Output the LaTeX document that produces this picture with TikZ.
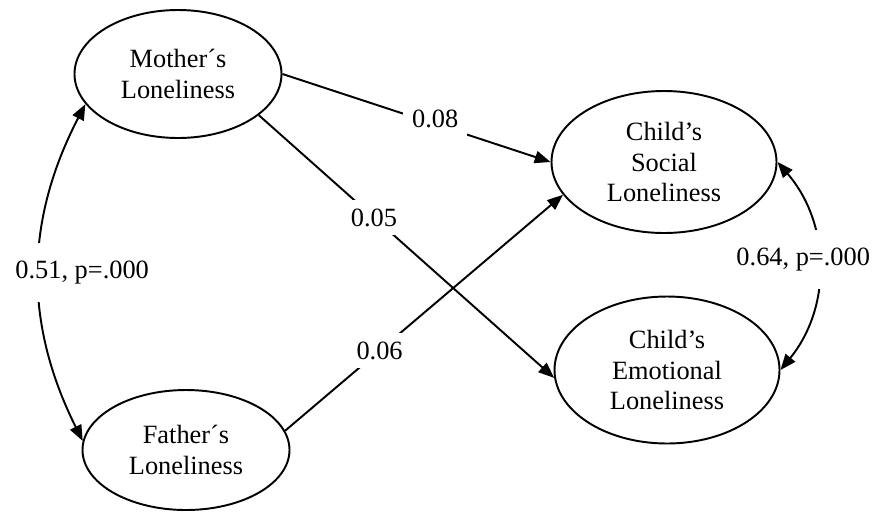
\documentclass[tikz,border=0pt]{standalone}
\usepackage{fontspec}
\setmainfont{Liberation Serif}
\usetikzlibrary{shapes.geometric,arrows.meta}
\tikzset{
	latent/.style={ellipse, draw, line width=1.1pt, inner sep=0pt, align=center, font=\fontsize{15}{17.5}\selectfont},
	coef/.style={fill=white, inner sep=5pt, font=\fontsize{15}{17.5}\selectfont},
	corr/.style={coef, inner ysep=0.36cm},
}
\begin{document}
\begin{tikzpicture}[>={Triangle[length=9pt,width=7pt]}, line width=1.1pt]
	      	\useasboundingbox (0,0) rectangle (17.56,-10.24);
	      	\node[latent, minimum width=4.14cm, minimum height=2.56cm] (Mother) at (3.56,-1.48) {Mother´s\\Loneliness};
	      	\node[latent, minimum width=4.14cm, minimum height=2.4cm] (Father) at (3.72,-9.0) {Father´s\\Loneliness};
	      	\node[latent, minimum width=4.5cm, minimum height=2.84cm] (Social) at (13.28,-3.24) {Child’s\\Social\\Loneliness};
	      	\node[latent, minimum width=4.5cm, minimum height=2.94cm] (Emotional) at (13.34,-7.4) {Child’s\\Emotional\\Loneliness};
	      	\draw[->] (Mother.east) -- node[coef, pos=0.57, yshift=3pt]{0.08} (Social.west);
	      	\draw[->] (Mother.-27) -- node[coef, pos=0.39]{0.05} (Emotional.184);
	      	\draw[->] (Father.11) -- node[coef, pos=0.34]{0.06} (Social.198);
	      	\draw[<->] (Mother.198) to[bend right=27] node[corr, xshift=0.86cm]{0.51, p=.000} (Father.175);
	      	\draw[<->] (Social.east) to[bend left=40] node[corr, xshift=-0.3cm, yshift=0.12cm]{0.64, p=.000} (Emotional.east);
	      \end{tikzpicture}
\end{document}
